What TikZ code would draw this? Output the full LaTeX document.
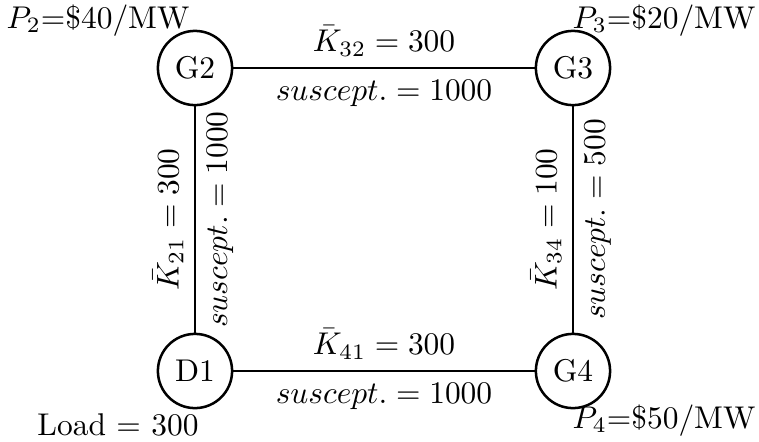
\documentclass[tikz,border=0pt]{standalone}
\begin{document}
\begin{tikzpicture}[x=0.318pt,y=-0.318pt,
  bus/.style={circle,draw,thick,minimum size=23.6pt,inner sep=0pt},
  tline/.style={thick},
  price/.style={anchor=base,inner sep=0pt}]
\useasboundingbox (0,0) rectangle (759,442);
\node[bus] (G2) at (195,68) {G2};
\node[bus] (G3) at (573,68) {G3};
\node[bus] (D1) at (195,371) {D1};
\node[bus] (G4) at (573,371) {G4};
\draw[tline] (G2) -- node[above]{$\bar K_{32}=300$} node[below]{$suscept.=1000$} (G3);
\draw[tline] (D1) -- node[above,sloped]{$\bar K_{21}=300$} node[below,sloped]{$suscept.=1000$} (G2);
\draw[tline] (D1) -- node[above]{$\bar K_{41}=300$} node[below]{$suscept.=1000$} (G4);
\draw[tline] (G4) -- node[above,sloped]{$\bar K_{34}=100$} node[below,sloped]{$suscept.=500$} (G3);
\node[price] (p2) at (98,28) {$P_2$=\$40/MW};
\node[price] (p3) at (664,28) {$P_3$=\$20/MW};
\node[price] (p4) at (664,428) {$P_4$=\$50/MW};
\node[price] (ld) at (118,435) {Load $=$ 300};
\end{tikzpicture}
\end{document}
